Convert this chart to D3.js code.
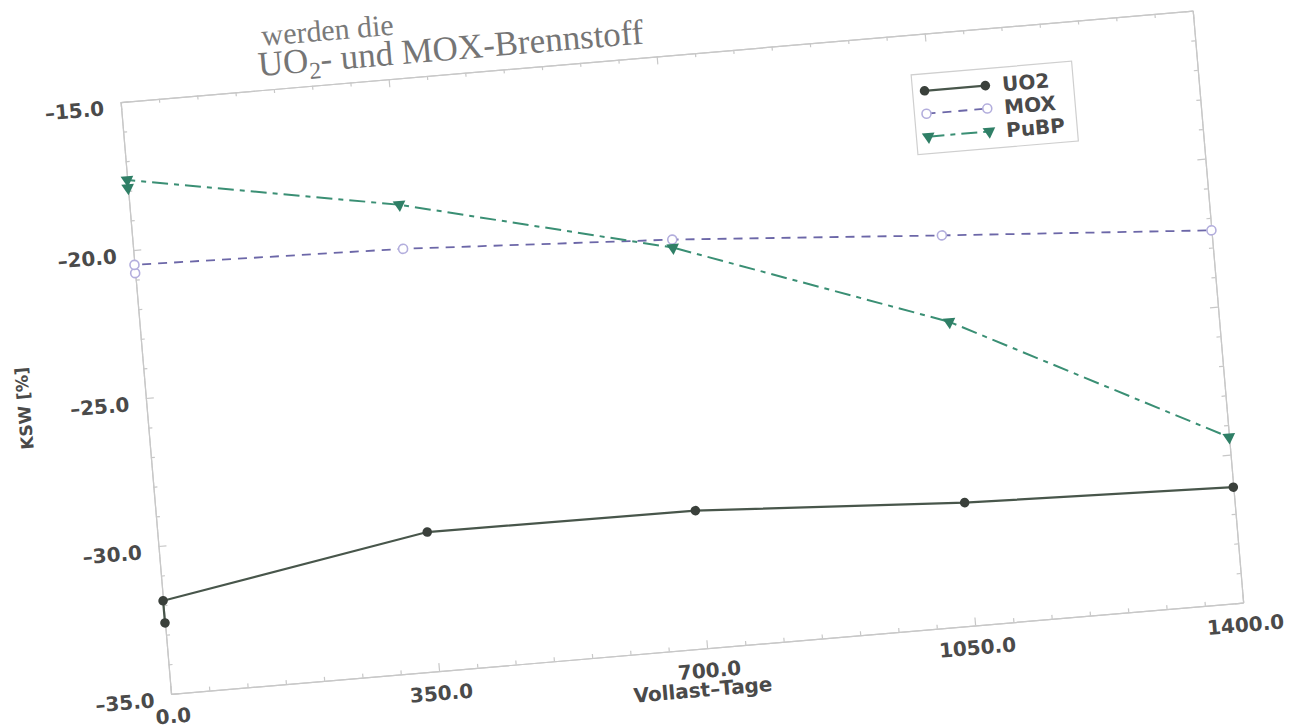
<!DOCTYPE html>
<html>
<head>
<meta charset="utf-8">
<script src="https://cdn.jsdelivr.net/npm/d3@7"></script>
<style>
  html, body { margin: 0; padding: 0; background: #ffffff; overflow: hidden; }
  svg { display: block; }
</style>
</head>
<body>
<script>
// Full-load days; the first day appears twice (value at start of cycle, before and after)
const days = [0, 0, 350, 700, 1050, 1400];
const uo2 = [-32.6, -31.85, -30.3, -30.35, -30.85, -31.1];
const mox = [-20.78, -20.5, -20.73, -21.19, -21.82, -22.42];
const pubp = [-17.9, -17.63, -19.24, -21.46, -24.74, -29.41];

const seriesNames = ["UO2", "MOX", "PuBP"];
const xTicks = [0, 350, 700, 1050, 1400];
const yTicks = [-35, -30, -25, -20, -15];
const xMinor = d3.range(0, 1401, 50).filter(d => !xTicks.includes(d));
const yMinor = d3.range(-35, -14, 1).filter(d => !yTicks.includes(d));

const xTitle = "Vollast–Tage";
const yTitle = "KSW [%]";
const pageLine1 = "werden die";
const pageLine2a = "UO";
const pageLine2sub = "2";
const pageLine2b = "- und MOX-Brennstoff";

const W = 1076, H = 594;
const tilt = -4.87;

const svg = d3.select("body").append("svg")
  .attr("width", 1291).attr("height", 728);
svg.append("rect").attr("width", 1291).attr("height", 728).attr("fill", "#ffffff");

const page = svg.append("g").attr("transform", `translate(120.6,102.1) rotate(${tilt})`);

// Running text of the page above the figure
const serif = "'Liberation Serif', 'DejaVu Serif', serif";
page.append("text")
  .attr("x", 146).attr("y", -44)
  .attr("font-family", serif).attr("font-size", 30).attr("fill", "#7a7a7a")
  .text(pageLine1);
const cap = page.append("text")
  .attr("x", 140).attr("y", -14)
  .attr("font-family", serif).attr("font-size", 35).attr("fill", "#757575");
cap.append("tspan").text(pageLine2a);
cap.append("tspan").attr("font-size", 24).attr("dy", 7).text(pageLine2sub);
cap.append("tspan").attr("dy", -7).text(pageLine2b);

const x = d3.scaleLinear().domain([0, 1400]).range([0, W]);
const y = d3.scaleLinear().domain([-35, -15]).range([H, 0]);

const fmt = d => d3.format(".1f")(d).replace("\u2212", "\u2013");
const sans = "'DejaVu Sans', 'Liberation Sans', sans-serif";
const frameColor = "#c8c8c8";

function styleAxis(sel) {
  sel.select(".domain").attr("stroke", frameColor).attr("stroke-width", 1.2);
  sel.selectAll(".tick line").attr("stroke", frameColor).attr("stroke-width", 1.2);
  sel.selectAll(".tick text")
    .attr("font-family", sans).attr("font-weight", "bold")
    .attr("font-size", 20).attr("fill", "#4a4a4a");
}

// Minor ticks
page.append("g").attr("transform", `translate(0,${H})`)
  .call(d3.axisBottom(x).tickValues(xMinor).tickSizeInner(-4).tickSizeOuter(0).tickFormat(""))
  .call(styleAxis);
page.append("g")
  .call(d3.axisTop(x).tickValues(xMinor).tickSizeInner(-4).tickSizeOuter(0).tickFormat(""))
  .call(styleAxis);
page.append("g")
  .call(d3.axisLeft(y).tickValues(yMinor).tickSizeInner(-4).tickSizeOuter(0).tickFormat(""))
  .call(styleAxis);
page.append("g").attr("transform", `translate(${W},0)`)
  .call(d3.axisRight(y).tickValues(yMinor).tickSizeInner(-4).tickSizeOuter(0).tickFormat(""))
  .call(styleAxis);

// Major ticks and labels
page.append("g").attr("transform", `translate(0,${H})`)
  .call(d3.axisBottom(x).tickValues(xTicks).tickSizeInner(-8).tickSizeOuter(0)
    .tickPadding(15).tickFormat(fmt))
  .call(styleAxis);
page.append("g")
  .call(d3.axisTop(x).tickValues(xTicks).tickSizeInner(-8).tickSizeOuter(0).tickFormat(""))
  .call(styleAxis);
page.append("g")
  .call(d3.axisLeft(y).tickValues(yTicks).tickSizeInner(-8).tickSizeOuter(0)
    .tickPadding(17).tickFormat(fmt))
  .call(styleAxis)
  .call(g => g.selectAll(".tick text").attr("y", 5));
page.append("g").attr("transform", `translate(${W},0)`)
  .call(d3.axisRight(y).tickValues(yTicks).tickSizeInner(-8).tickSizeOuter(0).tickFormat(""))
  .call(styleAxis);

// Axis titles
page.append("text")
  .attr("x", x(690)).attr("y", H + 48)
  .attr("text-anchor", "middle")
  .attr("font-family", sans).attr("font-weight", "bold").attr("font-size", 20)
  .attr("fill", "#4a4a4a").text(xTitle);
page.append("text")
  .attr("transform", `translate(-116,${H / 2}) rotate(-90)`)
  .attr("text-anchor", "middle")
  .attr("font-family", sans).attr("font-weight", "bold").attr("font-size", 17)
  .attr("fill", "#4a4a4a").text(yTitle);

// Series
const series = [
  { name: seriesNames[0], values: uo2, stroke: "#48564b", width: 2.2, dash: null, marker: "dot" },
  { name: seriesNames[1], values: mox, stroke: "#6c67a8", width: 1.8, dash: "9,7", marker: "ring" },
  { name: seriesNames[2], values: pubp, stroke: "#3a8f74", width: 2.0, dash: "16,6,5,6", marker: "tri" }
];

const line = d3.line().x(d => x(d[0])).y(d => y(d[1]));
const tri = d3.symbol().type(d3.symbolTriangle).size(70);

function drawMarker(sel, s, px, py) {
  if (s.marker === "dot") {
    sel.append("circle").attr("cx", px).attr("cy", py).attr("r", 4.8).attr("fill", "#3a403b");
  } else if (s.marker === "ring") {
    sel.append("circle").attr("cx", px).attr("cy", py).attr("r", 4.5)
      .attr("fill", "#ffffff").attr("stroke", "#b3aedd").attr("stroke-width", 1.6);
  } else {
    sel.append("path").attr("d", tri())
      .attr("transform", `translate(${px},${py}) rotate(180)`)
      .attr("fill", "#2f7f66");
  }
}

series.forEach(s => {
  const pts = days.map((d, i) => [d, s.values[i]]);
  page.append("path").datum(pts)
    .attr("d", line).attr("fill", "none")
    .attr("stroke", s.stroke).attr("stroke-width", s.width)
    .attr("stroke-dasharray", s.dash);
  const mg = page.append("g");
  pts.forEach(p => drawMarker(mg, s, x(p[0]), y(p[1])));
});

// Legend
const lg = page.append("g").attr("transform", "translate(790,40)");
lg.append("rect").attr("width", 161).attr("height", 80)
  .attr("fill", "#ffffff").attr("stroke", "#cfcfcf").attr("stroke-width", 1.2);
series.forEach((s, i) => {
  const cy = 17 + i * 23;
  lg.append("line").attr("x1", 12).attr("x2", 73).attr("y1", cy).attr("y2", cy)
    .attr("stroke", s.stroke).attr("stroke-width", s.width)
    .attr("stroke-dasharray", s.dash);
  drawMarker(lg, s, 12, cy);
  drawMarker(lg, s, 73, cy);
  lg.append("text").attr("x", 90).attr("y", cy).attr("dy", "0.36em")
    .attr("font-family", sans).attr("font-weight", "bold").attr("font-size", 20)
    .attr("fill", "#4a4a4a").text(s.name);
});
</script>
</body>
</html>
